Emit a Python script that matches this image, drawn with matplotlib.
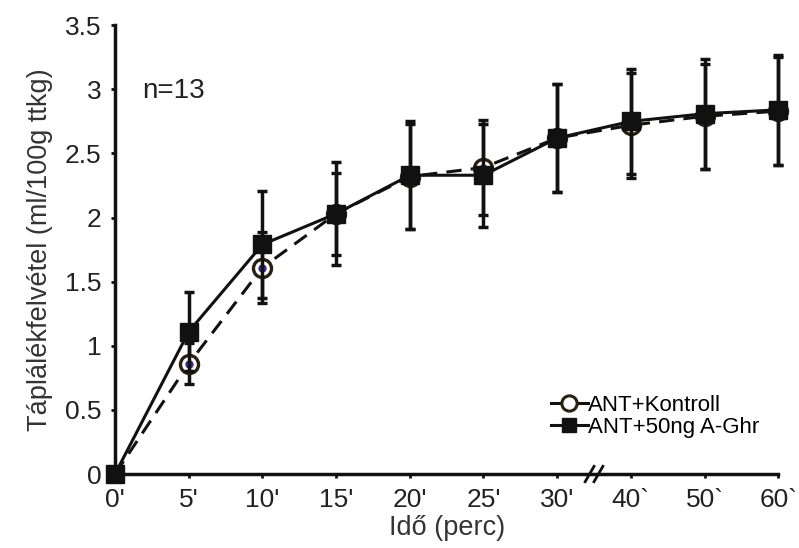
import matplotlib.pyplot as plt
from matplotlib.lines import Line2D

plt.rcParams['font.family'] = ['Liberation Sans', 'DejaVu Sans']

labels = ["0'", "5'", "10'", "15'", "20'", "25'", "30'", "40`", "50`", "60`"]

ctrl_mean = [0, 0.86, 1.61, 2.03, 2.32, 2.39, 2.62, 2.72, 2.79, 2.83]
ctrl_err = [0, 0.16, 0.28, 0.32, 0.41, 0.37, 0.42, 0.41, 0.41, 0.42]

ghr_mean = [0, 1.11, 1.79, 2.03, 2.33, 2.33, 2.62, 2.75, 2.81, 2.84]
ghr_err = [0, 0.31, 0.42, 0.40, 0.42, 0.40, 0.42, 0.41, 0.43, 0.43]

x = list(range(len(labels)))

fig = plt.figure(figsize=(7.99, 5.48), dpi=100)
ax = fig.add_axes([0.144, 0.135, 0.83, 0.819])

ax.errorbar(x, ctrl_mean, yerr=ctrl_err, color='#111111', ls='--', lw=2.2,
            marker='o', ms=13, mfc='white', mec='#2a1f10', mew=2.4,
            markevery=list(range(1, len(x))),
            ecolor='#111111', elinewidth=2.5, capsize=3.5, capthick=2.5,
            dashes=(5, 3), clip_on=False, zorder=3)
ax.plot(x[1:], ctrl_mean[1:], ls='none', marker='o', ms=5, color='#3b2a8c', zorder=4)
ax.errorbar(x, ghr_mean, yerr=ghr_err, color='#111111', ls='-', lw=2.2,
            marker='s', ms=12.5, mfc='#111111', mec='#111111',
            ecolor='#111111', elinewidth=2.5, capsize=3.5, capthick=2.5,
            clip_on=False, zorder=5)

ax.set_xlim(0, 9)
ax.set_ylim(0, 3.5)
ax.set_xticks(x)
ax.set_xticklabels(labels)
ax.set_yticks([0, 0.5, 1, 1.5, 2, 2.5, 3, 3.5])
ax.set_yticklabels(['0', '0.5', '1', '1.5', '2', '2.5', '3', '3.5'])
ax.tick_params(labelsize=19, length=3, width=2, colors='#111111', labelcolor='#222222')
ax.tick_params(axis='x', pad=7)
ax.tick_params(axis='y', pad=7)

for side in ['top', 'right']:
    ax.spines[side].set_visible(False)
for side in ['left', 'bottom']:
    ax.spines[side].set_linewidth(2.5)
    ax.spines[side].set_color('#111111')

# axis break between 30' and 40`
for dx in (-0.06, 0.06):
    ax.plot([6.5 + dx - 0.06, 6.5 + dx + 0.06], [-0.06, 0.06], color='#111111',
            lw=2, clip_on=False, zorder=6)

ax.set_xlabel('Idő (perc)', fontsize=19.5, color='#333333', labelpad=2)
ax.set_ylabel('Táplálékfelvétel (ml/100g ttkg)', fontsize=19.5, color='#333333', labelpad=8)
ax.text(0.37, 2.99, 'n=13', fontsize=20, color='#222222', va='center')

handles = [
    Line2D([], [], color='#111111', lw=2.2, marker='o', ms=11, mfc='white',
           mec='#2a1f10', mew=2.2),
    Line2D([], [], color='#111111', lw=2.2, marker='s', ms=10, mfc='#111111',
           mec='#111111'),
]
ax.legend(handles, ['ANT+Kontroll', 'ANT+50ng A-Ghr'], loc='lower left',
          bbox_to_anchor=(0.64, 0.055), frameon=False, fontsize=16,
          handlelength=1.7, handletextpad=0.0, labelspacing=0.05, borderpad=0)

fig.savefig('out.png', dpi=100)
